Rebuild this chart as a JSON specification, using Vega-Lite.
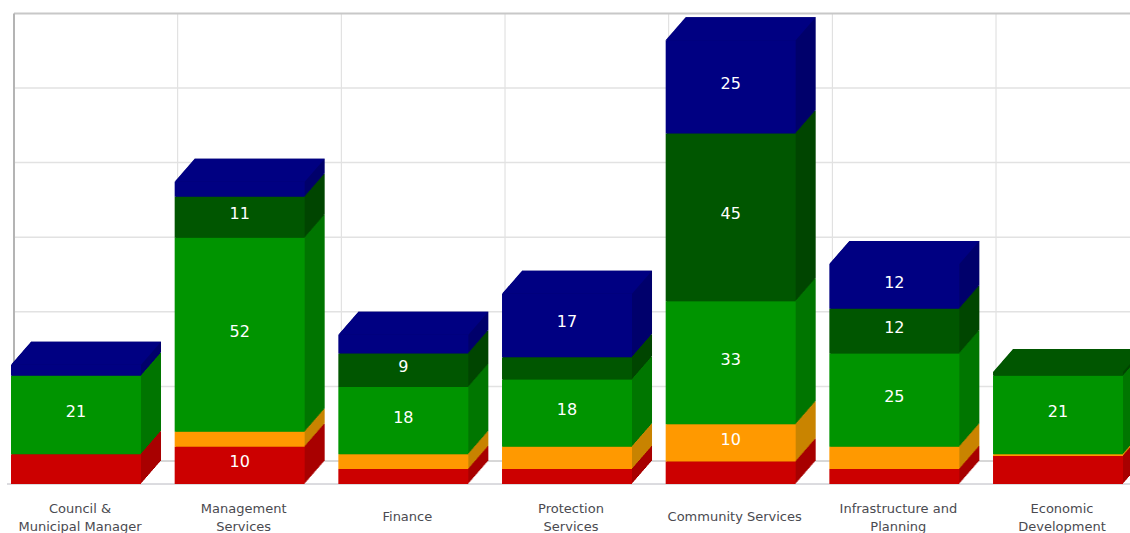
{
  "$schema": "https://vega.github.io/schema/vega-lite/v6.json",
  "width": 1130,
  "height": 484,
  "padding": {"left": 0, "right": 0, "top": 0, "bottom": 49},
  "autosize": {"type": "none"},
  "background": "#ffffff",
  "view": {"stroke": null},
  "data": {"values": [
      {"dept": "Council & Municipal Manager", "series": "A", "tier": 1, "value": 8},
      {"dept": "Council & Municipal Manager", "series": "C", "tier": 3, "value": 21},
      {"dept": "Council & Municipal Manager", "series": "E", "tier": 5, "value": 3},
      {"dept": "Management Services", "series": "A", "tier": 1, "value": 10},
      {"dept": "Management Services", "series": "B", "tier": 2, "value": 4},
      {"dept": "Management Services", "series": "C", "tier": 3, "value": 52},
      {"dept": "Management Services", "series": "D", "tier": 4, "value": 11},
      {"dept": "Management Services", "series": "E", "tier": 5, "value": 4},
      {"dept": "Finance", "series": "A", "tier": 1, "value": 4},
      {"dept": "Finance", "series": "B", "tier": 2, "value": 4},
      {"dept": "Finance", "series": "C", "tier": 3, "value": 18},
      {"dept": "Finance", "series": "D", "tier": 4, "value": 9},
      {"dept": "Finance", "series": "E", "tier": 5, "value": 5},
      {"dept": "Protection Services", "series": "A", "tier": 1, "value": 4},
      {"dept": "Protection Services", "series": "B", "tier": 2, "value": 6},
      {"dept": "Protection Services", "series": "C", "tier": 3, "value": 18},
      {"dept": "Protection Services", "series": "D", "tier": 4, "value": 6},
      {"dept": "Protection Services", "series": "E", "tier": 5, "value": 17},
      {"dept": "Community Services", "series": "A", "tier": 1, "value": 6},
      {"dept": "Community Services", "series": "B", "tier": 2, "value": 10},
      {"dept": "Community Services", "series": "C", "tier": 3, "value": 33},
      {"dept": "Community Services", "series": "D", "tier": 4, "value": 45},
      {"dept": "Community Services", "series": "E", "tier": 5, "value": 25},
      {"dept": "Infrastructure and Planning", "series": "A", "tier": 1, "value": 4},
      {"dept": "Infrastructure and Planning", "series": "B", "tier": 2, "value": 6},
      {"dept": "Infrastructure and Planning", "series": "C", "tier": 3, "value": 25},
      {"dept": "Infrastructure and Planning", "series": "D", "tier": 4, "value": 12},
      {"dept": "Infrastructure and Planning", "series": "E", "tier": 5, "value": 12},
      {"dept": "Economic Development", "series": "A", "tier": 1, "value": 7.5},
      {"dept": "Economic Development", "series": "B", "tier": 2, "value": 0.5},
      {"dept": "Economic Development", "series": "C", "tier": 3, "value": 21},
      {"dept": "Economic Development", "series": "D", "tier": 4, "value": 1}
  ]},
  "encoding": {
    "x": {
      "field": "dept",
      "type": "nominal",
      "sort": null,
      "title": null,
      "scale": {
        "domain": ["Council & Municipal Manager", "Management Services", "Finance", "Protection Services", "Community Services", "Infrastructure and Planning", "Economic Development"],
        "range": [-5.83, 1139.86],
        "paddingInner": 0.2057,
        "paddingOuter": 0.10285
      },
      "axis": {
        "domain": false,
        "ticks": false,
        "grid": false,
        "labelAngle": 0,
        "labelOffset": 4,
        "labelPadding": 24,
        "labelBaseline": "middle",
        "labelLineHeight": 18,
        "labelFont": "DejaVu Sans",
        "labelFontSize": 13,
        "labelColor": "#4a4a50",
        "labelOverlap": false,
        "labelBound": false,
        "labelFlush": false,
        "labelLimit": 200,
        "labelExpr": "({'Council & Municipal Manager':['Council &','Municipal Manager'],'Management Services':['Management','Services'],'Protection Services':['Protection','Services'],'Infrastructure and Planning':['Infrastructure and','Planning'],'Economic Development':['Economic','Development']})[datum.value] || ''"
      }
    },
    "y": {
      "field": "value",
      "type": "quantitative",
      "stack": "zero",
      "axis": null,
      "title": null,
      "scale": {"domain": [0, 129.76], "nice": false, "zero": true}
    },
    "order": {"field": "tier", "type": "quantitative"}
  },
  "layer": [
    {
      "data": {"values": [
        {"dept": "Management Services", "low": 0, "high": 120},
        {"dept": "Finance", "low": 0, "high": 120},
        {"dept": "Protection Services", "low": 0, "high": 120},
        {"dept": "Community Services", "low": 0, "high": 120},
        {"dept": "Infrastructure and Planning", "low": 0, "high": 120},
        {"dept": "Economic Development", "low": 0, "high": 120}
      ]},
      "mark": {"type": "rule", "stroke": "#dcdcdc", "strokeWidth": 1, "xOffset": 3, "yOffset": -23, "y2Offset": -23},
      "encoding": {
        "x": {"field": "dept", "type": "nominal", "sort": null, "bandPosition": 0, "title": null},
        "y": {"field": "low", "type": "quantitative", "axis": null, "title": null},
        "y2": {"field": "high"}
      }
    },
    {
      "data": {"values": [{"tick": 20}]},
      "mark": {"type": "rule", "stroke": "#e2e2e2", "strokeWidth": 1.5, "xOffset": 3, "x2Offset": 85, "yOffset": -23},
      "encoding": {
        "x": {"datum": "Council & Municipal Manager", "type": "nominal", "bandPosition": 0, "title": null},
        "x2": {"datum": "Economic Development"},
        "y": {"field": "tick", "type": "quantitative", "axis": null, "title": null}
      }
    },
    {
      "data": {"values": [{"tick": 40}]},
      "mark": {"type": "rule", "stroke": "#e2e2e2", "strokeWidth": 1.5, "xOffset": 3, "x2Offset": 85, "yOffset": -23},
      "encoding": {
        "x": {"datum": "Council & Municipal Manager", "type": "nominal", "bandPosition": 0, "title": null},
        "x2": {"datum": "Economic Development"},
        "y": {"field": "tick", "type": "quantitative", "axis": null, "title": null}
      }
    },
    {
      "data": {"values": [{"tick": 60}]},
      "mark": {"type": "rule", "stroke": "#e2e2e2", "strokeWidth": 1.5, "xOffset": 3, "x2Offset": 85, "yOffset": -23},
      "encoding": {
        "x": {"datum": "Council & Municipal Manager", "type": "nominal", "bandPosition": 0, "title": null},
        "x2": {"datum": "Economic Development"},
        "y": {"field": "tick", "type": "quantitative", "axis": null, "title": null}
      }
    },
    {
      "data": {"values": [{"tick": 80}]},
      "mark": {"type": "rule", "stroke": "#e2e2e2", "strokeWidth": 1.5, "xOffset": 3, "x2Offset": 85, "yOffset": -23},
      "encoding": {
        "x": {"datum": "Council & Municipal Manager", "type": "nominal", "bandPosition": 0, "title": null},
        "x2": {"datum": "Economic Development"},
        "y": {"field": "tick", "type": "quantitative", "axis": null, "title": null}
      }
    },
    {
      "data": {"values": [{"tick": 100}]},
      "mark": {"type": "rule", "stroke": "#e2e2e2", "strokeWidth": 1.5, "xOffset": 3, "x2Offset": 85, "yOffset": -23},
      "encoding": {
        "x": {"datum": "Council & Municipal Manager", "type": "nominal", "bandPosition": 0, "title": null},
        "x2": {"datum": "Economic Development"},
        "y": {"field": "tick", "type": "quantitative", "axis": null, "title": null}
      }
    },
    {
      "data": {"values": [{"tick": 120}]},
      "mark": {"type": "rule", "stroke": "#c8c8c8", "strokeWidth": 2, "xOffset": 3, "x2Offset": 85, "yOffset": -23},
      "encoding": {
        "x": {"datum": "Council & Municipal Manager", "type": "nominal", "bandPosition": 0, "title": null},
        "x2": {"datum": "Economic Development"},
        "y": {"field": "tick", "type": "quantitative", "axis": null, "title": null}
      }
    },
    {
      "data": {"values": [{"tick": 0}]},
      "mark": {"type": "rule", "stroke": "#b0b0b0", "strokeWidth": 1, "xOffset": 3, "x2Offset": 85, "yOffset": -23},
      "encoding": {
        "x": {"datum": "Council & Municipal Manager", "type": "nominal", "bandPosition": 0, "title": null},
        "x2": {"datum": "Economic Development"},
        "y": {"field": "tick", "type": "quantitative", "axis": null, "title": null}
      }
    },
    {
      "data": {"values": [{"tick": 0}]},
      "mark": {"type": "rule", "stroke": "#b8b8c0", "strokeWidth": 1, "xOffset": -4, "x2Offset": 85},
      "encoding": {
        "x": {"datum": "Council & Municipal Manager", "type": "nominal", "bandPosition": 0, "title": null},
        "x2": {"datum": "Economic Development"},
        "y": {"field": "tick", "type": "quantitative", "axis": null, "title": null}
      }
    },
    {
      "data": {"values": [{"dept": "Council & Municipal Manager", "low": 0, "high": 120}]},
      "mark": {"type": "rule", "stroke": "#b4b4b4", "strokeWidth": 2, "xOffset": 3, "yOffset": -23, "y2Offset": -23},
      "encoding": {
        "x": {"field": "dept", "type": "nominal", "sort": null, "bandPosition": 0, "title": null},
        "y": {"field": "low", "type": "quantitative", "axis": null, "title": null},
        "y2": {"field": "high"}
      }
    },
    {"mark": {"type": "bar", "xOffset": 20, "x2Offset": 20, "yOffset": -23, "y2Offset": -23}, "encoding": {"fill": {"field": "series", "type": "nominal", "legend": null, "scale": {"domain": ["A", "B", "C", "D", "E"], "range": ["#a80000", "#c98400", "#007600", "#004600", "#00006c"]}}}},
    {"mark": {"type": "bar", "xOffset": 19, "x2Offset": 19, "yOffset": -21.85, "y2Offset": -21.85}, "encoding": {"fill": {"field": "series", "type": "nominal", "legend": null}}},
    {"mark": {"type": "bar", "xOffset": 18, "x2Offset": 18, "yOffset": -20.7, "y2Offset": -20.7}, "encoding": {"fill": {"field": "series", "type": "nominal", "legend": null}}},
    {"mark": {"type": "bar", "xOffset": 17, "x2Offset": 17, "yOffset": -19.55, "y2Offset": -19.55}, "encoding": {"fill": {"field": "series", "type": "nominal", "legend": null}}},
    {"mark": {"type": "bar", "xOffset": 16, "x2Offset": 16, "yOffset": -18.4, "y2Offset": -18.4}, "encoding": {"fill": {"field": "series", "type": "nominal", "legend": null}}},
    {"mark": {"type": "bar", "xOffset": 15, "x2Offset": 15, "yOffset": -17.25, "y2Offset": -17.25}, "encoding": {"fill": {"field": "series", "type": "nominal", "legend": null}}},
    {"mark": {"type": "bar", "xOffset": 14, "x2Offset": 14, "yOffset": -16.1, "y2Offset": -16.1}, "encoding": {"fill": {"field": "series", "type": "nominal", "legend": null}}},
    {"mark": {"type": "bar", "xOffset": 13, "x2Offset": 13, "yOffset": -14.95, "y2Offset": -14.95}, "encoding": {"fill": {"field": "series", "type": "nominal", "legend": null}}},
    {"mark": {"type": "bar", "xOffset": 12, "x2Offset": 12, "yOffset": -13.8, "y2Offset": -13.8}, "encoding": {"fill": {"field": "series", "type": "nominal", "legend": null}}},
    {"mark": {"type": "bar", "xOffset": 11, "x2Offset": 11, "yOffset": -12.65, "y2Offset": -12.65}, "encoding": {"fill": {"field": "series", "type": "nominal", "legend": null}}},
    {"mark": {"type": "bar", "xOffset": 10, "x2Offset": 10, "yOffset": -11.5, "y2Offset": -11.5}, "encoding": {"fill": {"field": "series", "type": "nominal", "legend": null}}},
    {"mark": {"type": "bar", "xOffset": 9, "x2Offset": 9, "yOffset": -10.35, "y2Offset": -10.35}, "encoding": {"fill": {"field": "series", "type": "nominal", "legend": null}}},
    {"mark": {"type": "bar", "xOffset": 8, "x2Offset": 8, "yOffset": -9.2, "y2Offset": -9.2}, "encoding": {"fill": {"field": "series", "type": "nominal", "legend": null}}},
    {"mark": {"type": "bar", "xOffset": 7, "x2Offset": 7, "yOffset": -8.05, "y2Offset": -8.05}, "encoding": {"fill": {"field": "series", "type": "nominal", "legend": null}}},
    {"mark": {"type": "bar", "xOffset": 6, "x2Offset": 6, "yOffset": -6.9, "y2Offset": -6.9}, "encoding": {"fill": {"field": "series", "type": "nominal", "legend": null}}},
    {"mark": {"type": "bar", "xOffset": 5, "x2Offset": 5, "yOffset": -5.75, "y2Offset": -5.75}, "encoding": {"fill": {"field": "series", "type": "nominal", "legend": null}}},
    {"mark": {"type": "bar", "xOffset": 4, "x2Offset": 4, "yOffset": -4.6, "y2Offset": -4.6}, "encoding": {"fill": {"field": "series", "type": "nominal", "legend": null}}},
    {"mark": {"type": "bar", "xOffset": 3, "x2Offset": 3, "yOffset": -3.45, "y2Offset": -3.45}, "encoding": {"fill": {"field": "series", "type": "nominal", "legend": null}}},
    {"mark": {"type": "bar", "xOffset": 2, "x2Offset": 2, "yOffset": -2.3, "y2Offset": -2.3}, "encoding": {"fill": {"field": "series", "type": "nominal", "legend": null}}},
    {"mark": {"type": "bar", "xOffset": 1, "x2Offset": 1, "yOffset": -1.15, "y2Offset": -1.15}, "encoding": {"fill": {"field": "series", "type": "nominal", "legend": null}}},
    {
      "mark": {"type": "bar"},
      "encoding": {
        "color": {
          "field": "series",
          "type": "nominal",
          "legend": null,
          "scale": {"domain": ["A", "B", "C", "D", "E"], "range": ["#cc0000", "#ff9900", "#009400", "#005600", "#000082"]}
        }
      }
    },
    {
      "transform": [
        {"joinaggregate": [{"op": "sum", "field": "value", "as": "total"}, {"op": "max", "field": "tier", "as": "topTier"}], "groupby": ["dept"]},
        {"filter": "datum.tier === datum.topTier"}
      ],
      "mark": {"type": "point", "shape": "M-65 0L-45 -23L85 -23L65 0Z", "size": 4, "filled": true, "opacity": 1, "strokeWidth": 0},
      "encoding": {
        "y": {"field": "total", "type": "quantitative", "axis": null},
        "color": {"field": "series", "type": "nominal", "legend": null}
      }
    },
    {
      "mark": {"type": "text", "font": "DejaVu Sans", "fontSize": 16, "fill": "#ffffff", "baseline": "middle", "align": "center", "dy": -3},
      "encoding": {
        "y": {"field": "value", "type": "quantitative", "stack": "zero", "bandPosition": 0.5, "axis": null},
        "detail": {"field": "series"},
        "text": {"condition": {"test": "datum.value >= 9", "field": "value", "type": "quantitative"}, "value": ""}
      }
    },
    {
      "data": {"values": [{"dept": "Finance", "low": 0}, {"dept": "Community Services", "low": 0}]},
      "mark": {"type": "text", "font": "DejaVu Sans", "fontSize": 13, "fill": "#4a4a50", "baseline": "middle", "align": "center", "dx": 4, "dy": 33},
      "encoding": {
        "x": {"field": "dept", "type": "nominal", "sort": null, "title": null},
        "y": {"field": "low", "type": "quantitative", "axis": null, "title": null},
        "text": {"field": "dept"}
      }
    }
  ]
}
